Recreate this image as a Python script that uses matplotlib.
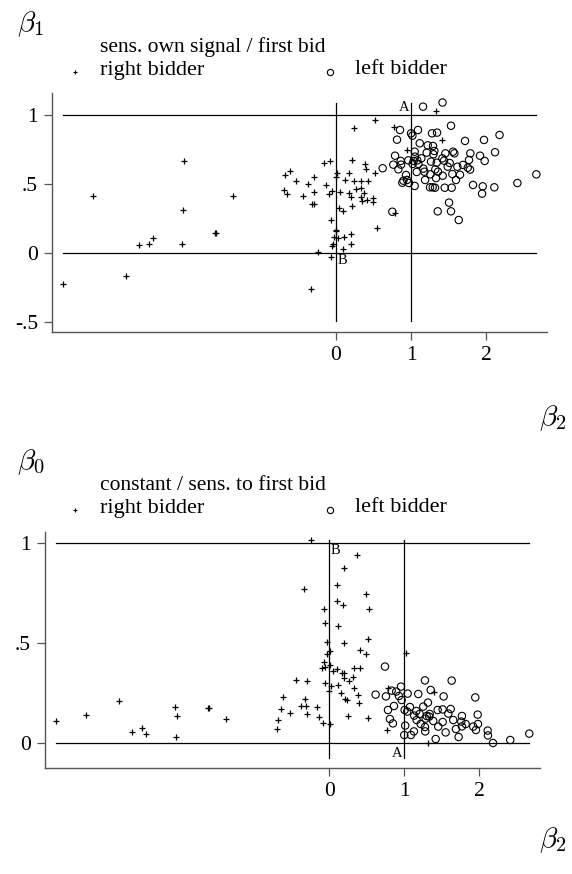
import matplotlib
matplotlib.use('Agg')
import matplotlib.pyplot as plt
from matplotlib.lines import Line2D

plt.rcParams['font.family'] = ['Liberation Serif', 'DejaVu Serif']
plt.rcParams['mathtext.fontset'] = 'cm'

# ---------------- data: top panel (beta2, beta1) ----------------
top_right_b2 = [-3.64, -3.24, -2.80, -2.63, -2.50, -2.44, -2.03, -2.04, -2.06, -1.61, -1.60, -1.38,
                -0.675, -0.62, -0.70, -0.65, -0.53, -0.38, -0.44, -0.29, -0.29, -0.32, -0.30, -0.16,
                -0.076, -0.137, -0.098, -0.053, -0.004, 0.013, -0.071, 0.0, 0.0, -0.027, 0.022, -0.04,
                -0.053, -0.245, -0.062, -0.333, 0.04, 0.058, 0.093, 0.098, 0.124, 0.169, 0.209, 0.244,
                0.24, 0.333, 0.42, 0.178, 0.2, 0.209, 0.267, 0.329, 0.373, 0.329, 0.391, 0.4, 0.351,
                0.413, 0.489, 0.489, 0.524, 0.52, 0.542, 0.196, 0.107, 0.2, 0.778, 0.951, 1.333, 1.409,
                0.79]
top_right_b1 = [-0.225, 0.415, -0.167, 0.056, 0.068, 0.106, 0.669, 0.312, 0.063, 0.143, 0.145, 0.41,
                0.563, 0.594, 0.459, 0.43, 0.524, 0.50, 0.41, 0.548, 0.44, 0.353, 0.357, 0.65,
                0.667, 0.495, 0.428, 0.449, 0.551, 0.578, 0.241, 0.162, 0.17, 0.116, 0.111, 0.068,
                0.048, 0.01, -0.031, -0.263, 0.326, 0.44, 0.304, 0.027, 0.529, 0.58, 0.674, 0.903,
                0.52, 0.52, 0.52, 0.435, 0.406, 0.338, 0.464, 0.473, 0.437, 0.406, 0.645, 0.606, 0.377,
                0.386, 0.401, 0.37, 0.58, 0.964, 0.184, 0.138, 0.118, 0.063, 0.915, 0.746, 1.03, 0.819,
                0.292]

top_left_b2 = [1.16, 1.42, 0.853, 1.0, 1.093, 0.813, 1.28, 1.347, 1.533, 2.18, 1.973, 1.72, 1.116,
               1.222, 1.293, 1.049, 1.209, 1.311, 1.298, 1.458, 1.56, 1.578, 1.791, 1.92, 2.12, 1.982,
               1.773, 0.787, 0.862, 0.764, 0.867, 0.964, 1.036, 1.084, 1.138, 1.022, 1.098, 1.267,
               1.342, 1.418, 1.44, 1.516, 1.489, 1.618, 1.693, 1.756, 1.787, 0.622, 0.831, 1.164,
               1.178, 1.324, 1.36, 1.076, 0.933, 1.258, 1.422, 1.551, 1.653, 1.187, 1.333, 0.898,
               0.947, 0.884, 0.973, 1.6, 1.049, 1.253, 1.289, 1.32, 1.449, 1.542, 1.827, 1.956, 2.111,
               1.947, 2.418, 2.671, 0.751, 1.356, 1.507, 1.533, 1.636, 1.018, 1.053]
top_left_b1 = [1.06, 1.09, 0.891, 0.867, 0.891, 0.821, 0.867, 0.872, 0.922, 0.855, 0.819, 0.812, 0.795,
               0.78, 0.775, 0.734, 0.727, 0.739, 0.715, 0.722, 0.734, 0.722, 0.722, 0.705, 0.73, 0.667,
               0.674, 0.705, 0.667, 0.64, 0.64, 0.671, 0.667, 0.671, 0.686, 0.645, 0.645, 0.662,
               0.654, 0.686, 0.669, 0.652, 0.625, 0.625, 0.638, 0.618, 0.604, 0.614, 0.606, 0.611,
               0.589, 0.606, 0.589, 0.587, 0.565, 0.57, 0.56, 0.572, 0.567, 0.529, 0.543, 0.524,
               0.529, 0.509, 0.507, 0.529, 0.486, 0.476, 0.476, 0.473, 0.473, 0.473, 0.493, 0.483, 0.476,
               0.43, 0.507, 0.57, 0.299, 0.302, 0.365, 0.302, 0.239, 0.85, 0.698]

# ---------------- data: bottom panel (beta2, beta0) ----------------
bot_right_b2 = [-3.65, -3.24, -2.81, -2.63, -2.50, -2.45, -2.06, -2.03, -2.05, -1.62, -1.61, -1.38,
                -0.70, -0.68, -0.65, -0.62, -0.53, -0.44, -0.377, -0.315, -0.328, -0.297, -0.297,
                -0.337, -0.248, -0.168, -0.141, -0.084, -0.067, -0.053, -0.031, -0.035, -0.075,
                -0.097, -0.053, -0.057, -0.008, 0.013, 0.005, 0.005, 0.019, 0.099, 0.099, 0.112,
                0.05, 0.099, 0.12, 0.192, 0.373, 0.179, 0.485, 0.533, 0.196, 0.52, 0.405, 0.493,
                0.169, 0.192, 0.333, 0.413, 0.196, 0.267, 0.32, 0.329, 0.16, 0.387, 0.205, 0.232,
                0.392, 0.245, 0.512, 1.027, 0.779, 0.773, 1.32, 1.4]
bot_right_b0 = [0.11, 0.14, 0.212, 0.055, 0.075, 0.047, 0.182, 0.133, 0.028, 0.175, 0.177, 0.12,
                0.068, 0.117, 0.168, 0.23, 0.15, 0.315, 0.187, 0.187, 0.222, 0.312, 0.147,
                0.768, 1.015, 0.178, 0.13, 0.1, 0.67, 0.6, 0.503, 0.447, 0.407,
                0.373, 0.378, 0.302, 0.26, 0.097, 0.458, 0.388, 0.287, 0.788, 0.71, 0.585,
                0.36, 0.368, 0.288, 0.875, 0.942, 0.688, 0.743, 0.668, 0.498, 0.522, 0.465, 0.447,
                0.348, 0.352, 0.377, 0.377, 0.325, 0.312, 0.332, 0.275, 0.252, 0.238, 0.218, 0.215,
                0.198, 0.135, 0.123, 0.448, 0.273, 0.065, 0.0, 0.257]

bot_left_b2 = [0.743, 1.276, 1.632, 0.618, 0.756, 0.832, 0.893, 0.956, 0.929, 0.965, 1.045, 1.187,
               1.352, 1.525, 1.947, 1.316, 0.863, 0.783, 1.005, 1.076, 1.04, 1.16, 1.253, 1.339,
               1.445, 1.512, 1.619, 1.587, 1.769, 1.979, 0.809, 0.849, 1.013, 1.165, 1.219, 1.285,
               1.299, 1.387, 1.512, 1.653, 1.76, 1.769, 1.819, 1.92, 1.983, 1.956, 2.112, 2.116,
               2.183, 2.413, 2.667, 1.0, 1.089, 1.129, 1.28, 1.276, 1.419, 1.552, 1.689, 1.725,
               1.453, 1.133, 1.205, 1.333]
bot_left_b0 = [0.382, 0.313, 0.312, 0.242, 0.233, 0.262, 0.257, 0.282, 0.235, 0.215, 0.247, 0.245,
               0.265, 0.233, 0.228, 0.202, 0.185, 0.165, 0.165, 0.18, 0.157, 0.16, 0.182, 0.145,
               0.165, 0.168, 0.17, 0.147, 0.135, 0.142, 0.12, 0.098, 0.087, 0.115, 0.095, 0.122,
               0.135, 0.11, 0.105, 0.115, 0.107, 0.083, 0.095, 0.082, 0.095, 0.065, 0.062, 0.038,
               0.0, 0.015, 0.047, 0.04, 0.04, 0.058, 0.058, 0.08, 0.02, 0.053, 0.07, 0.03,
               0.082, 0.137, 0.145, 0.132]

ref_levels = [0, 1]
x_ticks = [0, 1, 2]
x_ticklabels = ['0', '1', '2']
top_yticks = [-0.5, 0, 0.5, 1]
top_yticklabels = ['-.5', '0', '.5', '1']
bot_yticks = [0, 0.5, 1]
bot_yticklabels = ['0', '.5', '1']

W, H = 572, 874
fig = plt.figure(figsize=(W / 100, H / 100), dpi=100)


def px_rect(left, top, right, bottom):
    return [left / W, 1 - bottom / H, (right - left) / W, (bottom - top) / H]


def panel(rect, xlim, ylim, yticks, yticklabels, rx, ry, lx, ly, vline_lo):
    ax = fig.add_axes(rect)
    ax.set_xlim(*xlim)
    ax.set_ylim(*ylim)
    allx = rx + lx
    ally = ry + ly
    xmin, xmax = min(allx), max(allx)
    ymax = max(ally)
    for lev in ref_levels:
        ax.plot([xmin, xmax], [lev, lev], color='black', lw=0.9, zorder=1)
        ax.plot([lev, lev], [vline_lo, ymax], color='black', lw=0.9, zorder=1)
    ax.scatter(rx, ry, marker='+', s=18, linewidths=0.9, color='black', zorder=3)
    ax.scatter(lx, ly, marker='o', s=28, facecolors='none', edgecolors='black',
               linewidths=0.8, zorder=2)
    for s in ['top', 'right']:
        ax.spines[s].set_visible(False)
    for s in ['left', 'bottom']:
        ax.spines[s].set_color('#555555')
        ax.spines[s].set_linewidth(1.0)
    ax.set_xticks(x_ticks)
    ax.set_xticklabels(x_ticklabels)
    ax.set_yticks(yticks)
    ax.set_yticklabels(yticklabels)
    ax.tick_params(direction='out', length=6, width=0.9, color='#555555',
                   labelsize=15.5, pad=4)
    return ax


# top panel
ax1 = panel(px_rect(52, 93, 547, 332), (-3.787, 2.813), (-0.572, 1.159),
            top_yticks, top_yticklabels, top_right_b2, top_right_b1,
            top_left_b2, top_left_b1, -0.49)
ax1.annotate('A', (1, 1), xytext=(-1, 1), textcoords='offset points',
             ha='right', va='bottom', fontsize=10.5)
ax1.annotate('B', (0, 0), xytext=(1, -1), textcoords='offset points',
             ha='left', va='top', fontsize=10.5)

# bottom panel
ax2 = panel(px_rect(45, 532, 540, 768), (-3.79, 2.81), (-0.125, 1.055),
            bot_yticks, bot_yticklabels, bot_right_b2, bot_right_b0,
            bot_left_b2, bot_left_b0, -0.075)
ax2.annotate('B', (0, 1), xytext=(1, -1), textcoords='offset points',
             ha='left', va='top', fontsize=10.5)
ax2.annotate('A', (1, 0), xytext=(-1, -3), textcoords='offset points',
             ha='right', va='top', fontsize=10.5)


def fx(x):
    return x / W


def fy(y):
    return 1 - y / H


def legend_block(title, ytitle, yrow):
    fig.text(fx(100), fy(ytitle), title, fontsize=15.5, ha='left', va='center')
    fig.add_artist(Line2D([fx(75)], [fy(yrow + 2)], marker='+', markersize=3.5,
                          markeredgewidth=0.8, color='black', linestyle='none'))
    fig.text(fx(100), fy(yrow), 'right bidder', fontsize=16, ha='left', va='center')
    fig.add_artist(Line2D([fx(330)], [fy(yrow + 2)], marker='o', markersize=4.5,
                          markeredgewidth=0.8, markerfacecolor='none',
                          color='black', linestyle='none'))
    fig.text(fx(355), fy(yrow), 'left bidder', fontsize=16, ha='left', va='center')


fig.text(fx(17), fy(24), r'$\beta_1$', fontsize=21, ha='left', va='center')
legend_block('sens. own signal / first bid', 47, 70)
fig.text(fx(567), fy(418), r'$\beta_2$', fontsize=21, ha='right', va='center')

fig.text(fx(17), fy(462), r'$\beta_0$', fontsize=21, ha='left', va='center')
legend_block('constant / sens. to first bid', 486, 508)
fig.text(fx(567), fy(840), r'$\beta_2$', fontsize=21, ha='right', va='center')

fig.savefig('out.png', dpi=100)
